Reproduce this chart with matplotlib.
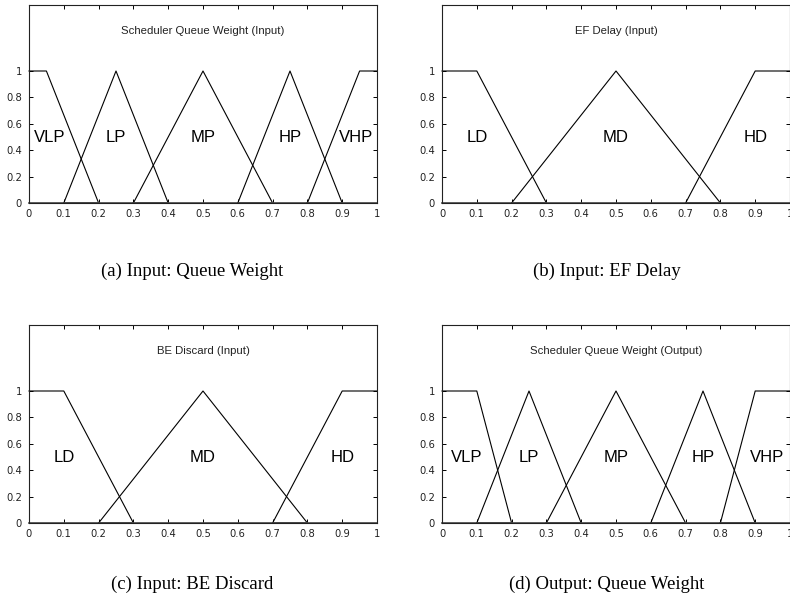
import matplotlib
matplotlib.use("Agg")
import matplotlib.pyplot as plt

# -------------------------------------------------
# DATA: membership functions (breakpoints)
# -------------------------------------------------
qw_in_names = ["VLP", "LP", "MP", "HP", "VHP"]
qw_in_x = [[0, 0.05, 0.2], [0.1, 0.25, 0.4], [0.3, 0.5, 0.7], [0.6, 0.75, 0.9], [0.8, 0.95, 1.0]]
qw_in_y = [[1, 1, 0], [0, 1, 0], [0, 1, 0], [0, 1, 0], [0, 1, 1]]
qw_in_label_x = [0.06, 0.25, 0.5, 0.75, 0.94]

ef_names = ["LD", "MD", "HD"]
ef_x = [[0, 0.1, 0.3], [0.2, 0.5, 0.8], [0.7, 0.9, 1.0]]
ef_y = [[1, 1, 0], [0, 1, 0], [0, 1, 1]]
ef_label_x = [0.1, 0.5, 0.9]

be_names = ["LD", "MD", "HD"]
be_x = [[0, 0.1, 0.3], [0.2, 0.5, 0.8], [0.7, 0.9, 1.0]]
be_y = [[1, 1, 0], [0, 1, 0], [0, 1, 1]]
be_label_x = [0.1, 0.5, 0.9]

qw_out_names = ["VLP", "LP", "MP", "HP", "VHP"]
qw_out_x = [[0, 0.1, 0.2], [0.1, 0.25, 0.4], [0.3, 0.5, 0.7], [0.6, 0.75, 0.9], [0.8, 0.9, 1.0]]
qw_out_y = [[1, 1, 0], [0, 1, 0], [0, 1, 0], [0, 1, 0], [0, 1, 1]]
qw_out_label_x = [0.07, 0.25, 0.5, 0.75, 0.935]

x_ticks = [0, 0.1, 0.2, 0.3, 0.4, 0.5, 0.6, 0.7, 0.8, 0.9, 1]
x_tick_labels = ["0", "0.1", "0.2", "0.3", "0.4", "0.5", "0.6", "0.7", "0.8", "0.9", "1"]
y_ticks = [0, 0.2, 0.4, 0.6, 0.8, 1]
y_tick_labels = ["0", "0.2", "0.4", "0.6", "0.8", "1"]

panels = [
    ("Scheduler Queue Weight (Input)", "(a) Input: Queue Weight", qw_in_names, qw_in_x, qw_in_y, qw_in_label_x),
    ("EF Delay (Input)", "(b) Input: EF Delay", ef_names, ef_x, ef_y, ef_label_x),
    ("BE Discard (Input)", "(c) Input: BE Discard", be_names, be_x, be_y, be_label_x),
    ("Scheduler Queue Weight (Output)", "(d) Output: Queue Weight", qw_out_names, qw_out_x, qw_out_y, qw_out_label_x),
]

# axes rectangles in figure fraction (left, bottom, width, height)
W, H = 790, 594
rects = [
    (29 / W, 1 - 203 / H, 348 / W, 198 / H),
    (442 / W, 1 - 203 / H, 348 / W, 198 / H),
    (29 / W, 1 - 523 / H, 348 / W, 198 / H),
    (442 / W, 1 - 523 / H, 348 / W, 198 / H),
]
caption_pos = [(192 / W, 1 - 271 / H), (607 / W, 1 - 271 / H),
               (192 / W, 1 - 584 / H), (607 / W, 1 - 584 / H)]

sans = "Liberation Sans"
tick_font = "DejaVu Sans"
serif = "Liberation Serif"

fig = plt.figure(figsize=(7.9, 5.94), dpi=100)

for (title, caption, names, xs, ys, lx), rect, cpos in zip(panels, rects, caption_pos):
    ax = fig.add_axes(rect)
    for x, y in zip(xs, ys):
        ax.plot(x, y, color="black", lw=0.8, clip_on=False)
        # base of each set along zero
        ax.plot([min(x), max(x)], [0, 0], color="#444444", lw=1.2, clip_on=False)
    for name, px in zip(names, lx):
        ax.text(px, 0.5, name, ha="center", va="center", fontsize=12, family=sans)
    ax.text(0.5, 1.3, title, ha="center", va="center", fontsize=8.2, family=sans,
            color="#222222")

    ax.set_xlim(0, 1)
    ax.set_ylim(0, 1.5)
    ax.set_xticks(x_ticks)
    ax.set_xticklabels(x_tick_labels, family=tick_font, fontsize=7.2, color="#222222")
    ax.set_yticks(y_ticks)
    ax.set_yticklabels(y_tick_labels, family=tick_font, fontsize=7.2, color="#222222")
    ax.tick_params(direction="in", length=3, width=0.7, top=True, right=True)
    ax.tick_params(axis="x", pad=4)
    ax.tick_params(axis="y", pad=5)
    for s in ax.spines.values():
        s.set_linewidth(0.8)
        s.set_color("#222222")

    fig.text(cpos[0], cpos[1], caption, ha="center", va="center", fontsize=13.5, family=serif)

plt.savefig("out.png", dpi=100)
